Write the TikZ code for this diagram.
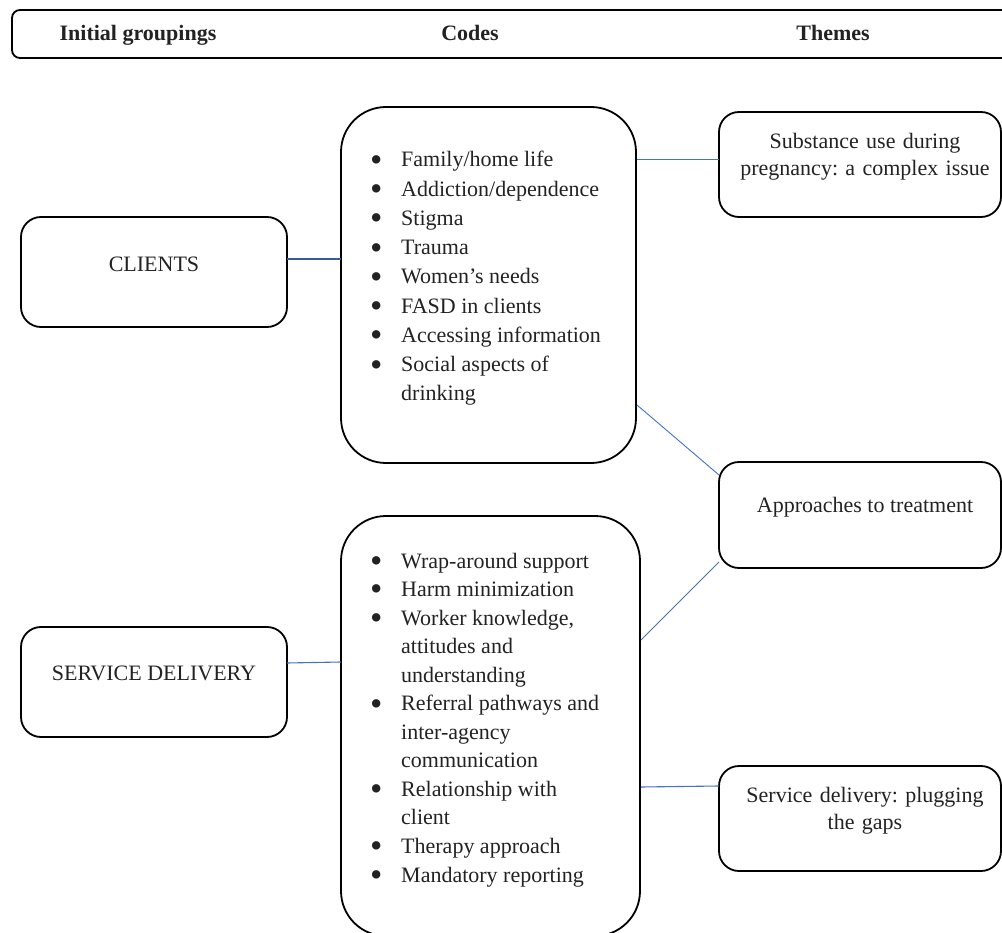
\documentclass[tikz,border=0pt]{standalone}
\usepackage{fontspec}
\setmainfont{Liberation Serif}
\usepackage{array}
\usepackage{graphicx}
\definecolor{linkblue}{HTML}{4472C4}
\definecolor{textgray}{HTML}{222222}
\newcommand{\bul}{\makebox[16pt][c]{\raisebox{-0.2em}[0pt][0pt]{\scalebox{1.6}{\textbullet}}}}
\frenchspacing
\begin{document}
\begin{tikzpicture}[x=1pt,y=-1pt,
  box/.style={draw=black,line width=1.8pt,rounded corners=20pt,inner sep=0pt},
  codebox/.style={draw=black,line width=1.8pt,rounded corners=45pt,inner sep=0pt},
  lbl/.style={font=\fontsize{22}{27}\selectfont,text=textgray,align=center,inner sep=0pt},
  hdr/.style={font=\fontsize{22}{27}\selectfont\bfseries,text=textgray,inner sep=0pt},
  link/.style={draw=linkblue,line width=0.9pt},
  boldlink/.style={draw=linkblue!80!black,line width=1.4pt}]
\useasboundingbox (0,0) rectangle (1002,933);
\begin{scope}
\clip (0,0) rectangle (1002,933);
% header
\draw[line width=1.8pt,rounded corners=8pt] (12,10) rectangle (1020,58);
\node[hdr,anchor=base] (h1) at (138,41) {Initial groupings};
\node[hdr,anchor=base] (h2) at (470,41) {Codes};
\node[hdr,anchor=base] (h3) at (833,41) {Themes};
% left boxes
\draw[box] (21,217) rectangle (287,327);
\node[lbl] (clients) at (154,264) {CLIENTS};
\draw[box] (21,627) rectangle (287,737);
\node[lbl] (service) at (154,673) {SERVICE DELIVERY};
% codes boxes
\draw[codebox] (341,107) rectangle (636,463);
\draw[codebox] (341,516) rectangle (640,936);
\node[anchor=base west,inner sep=0pt,text=textgray] (codes1) at (368,167)
{\fontsize{22}{29.25}\selectfont\renewcommand{\arraystretch}{1}%
\begin{tabular}[t]{@{}p{33pt}@{}l@{}}
\bul & Family/home life\\
\bul & Addiction/dependence\\
\bul & Stigma\\
\bul & Trauma\\
\bul & Women’s needs\\
\bul & FASD in clients\\
\bul & Accessing information\\
\bul & Social aspects of\\
 & drinking
\end{tabular}};
\node[anchor=base west,inner sep=0pt,text=textgray] (codes2) at (368,568)
{\fontsize{22}{28.55}\selectfont\renewcommand{\arraystretch}{1}%
\begin{tabular}[t]{@{}p{33pt}@{}l@{}}
\bul & Wrap-around support\\
\bul & Harm minimization\\
\bul & Worker knowledge,\\
 & attitudes and\\
 & understanding\\
\bul & Referral pathways and\\
 & inter-agency\\
 & communication\\
\bul & Relationship with\\
 & client\\
\bul & Therapy approach\\
\bul & Mandatory reporting
\end{tabular}};
% theme boxes
\draw[box] (719,112) rectangle (1001,217);
\node[lbl,text width=280pt] (t1) at (865,157) {Substance use during\\pregnancy: a complex issue};
\draw[box] (719,462) rectangle (1001,568);
\node[lbl] (t2) at (865,507) {Approaches to treatment};
\draw[box] (719,766) rectangle (1001,871);
\node[lbl,text width=280pt] (t3) at (865,811) {Service delivery: plugging\\the gaps};
% connectors
\path (287,259) coordinate (p1) (341,259) coordinate (q1);
\draw[boldlink] (p1) -- (q1);
\path (637,159) coordinate (p2) (719,159) coordinate (q2);
\draw[link] (p2) -- (q2);
\path (637,405) coordinate (p3) (719,475) coordinate (q3);
\draw[link] (p3) -- (q3);
\path (641,640) coordinate (p4) (719,562) coordinate (q4);
\draw[link] (p4) -- (q4);
\path (287,663) coordinate (p5) (341,662) coordinate (q5);
\draw[link,line width=1.1pt] (p5) -- (q5);
\path (641,787) coordinate (p6) (719,786) coordinate (q6);
\draw[link,line width=1.1pt] (p6) -- (q6);
\end{scope}
\end{tikzpicture}
\end{document}
